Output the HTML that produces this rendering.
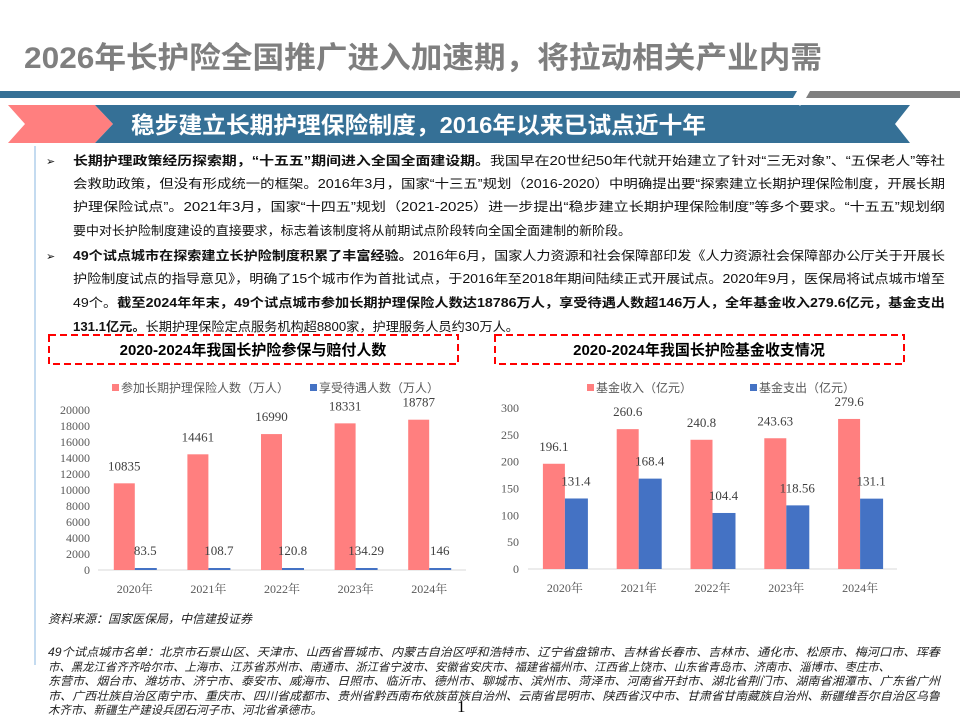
<!DOCTYPE html>
<html><head><meta charset="utf-8"><style>
html,body{margin:0;padding:0;background:#fff;}
svg{display:block;font-family:"Liberation Sans","Noto Sans CJK SC",sans-serif;}
.serif{font-family:"Liberation Serif","Noto Serif CJK SC",serif;}
</style></head><body>
<svg id="page" width="960" height="720" viewBox="0 0 960 720" xmlns="http://www.w3.org/2000/svg">
<text x="24" y="68" font-size="30" font-weight="bold" fill="#7f7f7f" textLength="798" lengthAdjust="spacingAndGlyphs">2026年长护险全国推广进入加速期，将拉动相关产业内需</text>
<polygon points="0,91 797,91 793,98 0,98" fill="#357096"/>
<polygon points="810,91 960,91 960,98 806,98" fill="#7f7f7f"/>
<polygon points="8,105 95,105 113,124 95,143 8,143 25,124" fill="#ff7f7f"/>
<polygon points="95,105 910,105 895,124 910,143 95,143 113,124" fill="#357096"/>
<polygon points="793,98 806,98 800,106" fill="#fff"/>
<text x="131" y="133" font-size="23" font-weight="bold" fill="#fff" textLength="575" lengthAdjust="spacingAndGlyphs">稳步建立长期护理保险制度，2016年以来已试点近十年</text>
<line x1="35" y1="146" x2="35" y2="665" stroke="#9dc3e6" stroke-width="1.2"/>

<g font-size="12.5" fill="#111">
<text x="46" y="165" font-size="11">➢</text>
<text x="73" y="165" textLength="872" lengthAdjust="spacingAndGlyphs"><tspan font-weight="bold">长期护理政策经历探索期，“十五五”期间进入全国全面建设期。</tspan>我国早在20世纪50年代就开始建立了针对“三无对象”、“五保老人”等社</text>
<text x="73" y="188" textLength="872" lengthAdjust="spacingAndGlyphs">会救助政策，但没有形成统一的框架。2016年3月，国家“十三五”规划（2016-2020）中明确提出要“探索建立长期护理保险制度，开展长期</text>
<text x="73" y="211" textLength="872" lengthAdjust="spacingAndGlyphs">护理保险试点”。2021年3月，国家“十四五”规划（2021-2025）进一步提出“稳步建立长期护理保险制度”等多个要求。“十五五”规划纲</text>
<text x="73" y="235" textLength="558" lengthAdjust="spacingAndGlyphs">要中对长护险制度建设的直接要求，标志着该制度将从前期试点阶段转向全国全面建制的新阶段。</text>
<text x="46" y="260" font-size="11">➢</text>
<text x="73" y="260" textLength="872" lengthAdjust="spacingAndGlyphs"><tspan font-weight="bold">49个试点城市在探索建立长护险制度积累了丰富经验。</tspan>2016年6月，国家人力资源和社会保障部印发《人力资源社会保障部办公厅关于开展长</text>
<text x="73" y="283" textLength="872" lengthAdjust="spacingAndGlyphs">护险制度试点的指导意见》，明确了15个城市作为首批试点，于2016年至2018年期间陆续正式开展试点。2020年9月，医保局将试点城市增至</text>
<text x="73" y="307" textLength="872" lengthAdjust="spacingAndGlyphs">49个。<tspan font-weight="bold">截至2024年年末，49个试点城市参加长期护理保险人数达18786万人，享受待遇人数超146万人，全年基金收入279.6亿元，基金支出</tspan></text>
<text x="73" y="331" textLength="446" lengthAdjust="spacingAndGlyphs"><tspan font-weight="bold">131.1亿元。</tspan>长期护理保险定点服务机构超8800家，护理服务人员约30万人。</text>
</g>

<rect x="49" y="335" width="409" height="29" fill="none" stroke="#ff0000" stroke-width="2" stroke-dasharray="7,4"/>
<text x="253" y="355" font-size="15" font-weight="bold" fill="#000" text-anchor="middle">2020-2024年我国长护险参保与赔付人数</text>
<rect x="495" y="335" width="409" height="29" fill="none" stroke="#ff0000" stroke-width="2" stroke-dasharray="7,4"/>
<text x="699" y="355" font-size="15" font-weight="bold" fill="#000" text-anchor="middle">2020-2024年我国长护险基金收支情况</text>

<g id="chart1"></g>
<g id="chart2"></g>

<text x="48" y="623" font-size="12" font-style="italic" fill="#222">资料来源：国家医保局，中信建投证券</text>
<g font-size="11.5" font-style="italic" fill="#222">
<text x="48" y="656" textLength="892" lengthAdjust="spacingAndGlyphs">49个试点城市名单：北京市石景山区、天津市、山西省晋城市、内蒙古自治区呼和浩特市、辽宁省盘锦市、吉林省长春市、吉林市、通化市、松原市、梅河口市、珲春</text>
<text x="48" y="671" textLength="842" lengthAdjust="spacingAndGlyphs">市、黑龙江省齐齐哈尔市、上海市、江苏省苏州市、南通市、浙江省宁波市、安徽省安庆市、福建省福州市、江西省上饶市、山东省青岛市、济南市、淄博市、枣庄市、</text>
<text x="48" y="685" textLength="892" lengthAdjust="spacingAndGlyphs">东营市、烟台市、潍坊市、济宁市、泰安市、威海市、日照市、临沂市、德州市、聊城市、滨州市、菏泽市、河南省开封市、湖北省荆门市、湖南省湘潭市、广东省广州</text>
<text x="48" y="700" textLength="892" lengthAdjust="spacingAndGlyphs">市、广西壮族自治区南宁市、重庆市、四川省成都市、贵州省黔西南布依族苗族自治州、云南省昆明市、陕西省汉中市、甘肃省甘南藏族自治州、新疆维吾尔自治区乌鲁</text>
<text x="48" y="714" textLength="274" lengthAdjust="spacingAndGlyphs">木齐市、新疆生产建设兵团石河子市、河北省承德市。</text>
</g>
<text x="457" y="712" font-size="17" class="serif" fill="#000">1</text>
</svg>
<script>
const categories = ["2020年","2021年","2022年","2023年","2024年"];
const insured = [10835,14461,16990,18331,18787];
const insuredLabels = ["10835","14461","16990","18331","18787"];
const treated = [83.5,108.7,120.8,134.29,146];
const treatedLabels = ["83.5","108.7","120.8","134.29","146"];
const ticks1 = [0,2000,4000,6000,8000,10000,12000,14000,16000,18000,20000];
const fundIncome = [196.1,260.6,240.8,243.63,279.6];
const incomeLabels = ["196.1","260.6","240.8","243.63","279.6"];
const fundExpense = [131.4,168.4,104.4,118.56,131.1];
const expenseLabels = ["131.4","168.4","104.4","118.56","131.1"];
const ticks2 = [0,50,100,150,200,250,300];

const NS = "http://www.w3.org/2000/svg";
function mk(parent, tag, attrs, txt){
  const e = document.createElementNS(NS, tag);
  for (const k in attrs) e.setAttribute(k, attrs[k]);
  if (txt !== undefined) e.textContent = txt;
  parent.appendChild(e);
  return e;
}
function drawChart(g, cfg){
  const y = v => cfg.y0 - (v / cfg.max) * (cfg.y0 - cfg.yTop);
  const cw = (cfg.x1 - cfg.x0) / categories.length;
  let s = mk(g,'rect',{x:cfg.leg1, y:384, width:7, height:7, fill:'#ff7f7f'});
  
  
  let t = mk(g,'text',{x:cfg.leg1+9, y:392, 'font-size':12, fill:'#595959'}, cfg.name1);
  
  
  s = mk(g,'rect',{x:cfg.leg2, y:384, width:7, height:7, fill:'#4472c4'});
  
  
  t = mk(g,'text',{x:cfg.leg2+9, y:392, 'font-size':12, fill:'#595959'}, cfg.name2);
  
  
  cfg.ticks.forEach(v => {
    const tk = mk(g,'text',{x:cfg.tickX, y:y(v)+4, 'font-size':12, fill:'#595959', 'text-anchor':'end', class:'serif'}, String(v));
    
    
  });
  const ax = mk(g,'line',{x1:cfg.x0, y1:cfg.y0, x2:cfg.x1, y2:cfg.y0, stroke:'#d9d9d9', 'stroke-width':1});
  
  
  categories.forEach((c, i) => {
    const cx = cfg.x0 + cw*(i+0.5);
    const bw = cfg.bw;
    const h1 = cfg.y0 - y(cfg.s1[i]);
    const b1 = mk(g,'rect',{x:cx-bw, y:y(cfg.s1[i]), width:bw, height:h1, fill:'#ff7f7f'});
    
    
    const h2 = Math.max(cfg.y0 - y(cfg.s2[i]), 2);
    const b2 = mk(g,'rect',{x:cx, y:cfg.y0-h2, width:bw+1, height:h2, fill:'#4472c4'});
    
    
    const l1 = mk(g,'text',{x:cx-bw/2, y:y(cfg.s1[i])-13, 'font-size':13, fill:'#404040', 'text-anchor':'middle', class:'serif'}, cfg.l1[i]);
    
    
    const l2 = mk(g,'text',{x:cx+bw/2, y:cfg.y0-h2-13, 'font-size':13, fill:'#404040', 'text-anchor':'middle', class:'serif'}, cfg.l2[i]);
    
    
    const xl = mk(g,'text',{x:cx, y:cfg.y0+23, 'font-size':12, fill:'#595959', 'text-anchor':'middle', class:'serif'}, c);
    
    
  });
}
drawChart(document.getElementById('chart1'), {
  x0:98, x1:466, y0:570, yTop:410, max:20000, bw:21, tickX:90,
  s1:insured, s2:treated, l1:insuredLabels, l2:treatedLabels, ticks:ticks1,
  leg1:112, leg2:310, name1:'参加长期护理保险人数（万人）', name2:'享受待遇人数（万人）'
});
drawChart(document.getElementById('chart2'), {
  x0:528, x1:897, y0:569, yTop:408, max:300, bw:22, tickX:519,
  s1:fundIncome, s2:fundExpense, l1:incomeLabels, l2:expenseLabels, ticks:ticks2,
  leg1:587, leg2:750, name1:'基金收入（亿元）', name2:'基金支出（亿元）'
});
</script>
</body></html>
